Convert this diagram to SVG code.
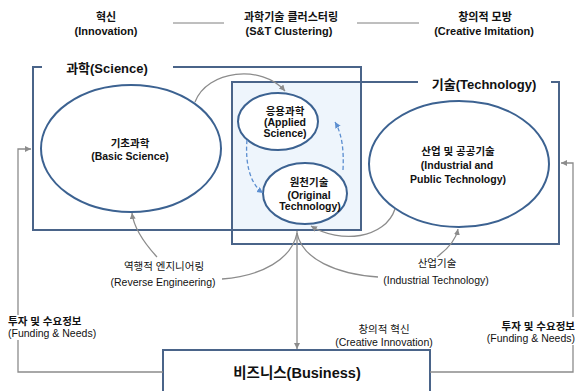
<svg xmlns="http://www.w3.org/2000/svg" width="577" height="391" viewBox="0 0 577 391">
<defs>
<style>
.t{font-family:"Liberation Sans","Noto Sans CJK KR",sans-serif;fill:#111;text-anchor:middle}
.top{font-size:11px;font-weight:bold}
.sec{font-size:13px;font-weight:bold}
.el{font-size:10.5px;font-weight:bold}
.lb{font-size:10.5px}
.box{fill:none;stroke:#4A6489;stroke-width:2}
.ell{fill:#fff;stroke:#3C6291;stroke-width:2}
.ellb{fill:#fff;stroke:#3C6291;stroke-width:2}
.con{fill:none;stroke:#8C8C8C;stroke-width:1.3}
.dash{fill:none;stroke:#5B8ED0;stroke-width:1.3;stroke-dasharray:4 2.5}
</style>
<marker id="ag" markerWidth="7" markerHeight="7" refX="6" refY="3" orient="auto" markerUnits="userSpaceOnUse">
<path d="M0,0 L6,3 L0,6 z" fill="#8C8C8C"/>
</marker>
<marker id="ab" markerWidth="7" markerHeight="7" refX="6" refY="3" orient="auto" markerUnits="userSpaceOnUse">
<path d="M0,0 L6,3 L0,6 z" fill="#5B8ED0"/>
</marker>
</defs>
<rect width="577" height="391" fill="#fff"/>

<g id="header">
<text class="t top" x="106" y="21">혁신</text>
<text class="t top" x="106" y="35">(Innovation)</text>
<text class="t top" x="291" y="21">과학기술 클러스터링</text>
<text class="t top" x="289" y="35">(S&amp;T Clustering)</text>
<text class="t top" x="485" y="21">창의적 모방</text>
<text class="t top" x="484" y="35">(Creative Imitation)</text>
<line x1="173" y1="23" x2="224" y2="23" stroke="#7F7F7F" stroke-width="1"/>
<line x1="357" y1="23" x2="419" y2="23" stroke="#7F7F7F" stroke-width="1"/>
</g>

<g id="overlap">
<rect x="232" y="82" width="129" height="148" fill="#EEF5FC"/>
</g>

<g id="science">
<path class="box" d="M42,67 L33,67 L33,230 L361,230 L361,67 L173,67"/>
<text class="t sec" x="107" y="72.5">과학(Science)</text>
</g>

<g id="technology">
<path class="box" d="M418,82 L232,82 L232,244 L559,244 L559,82 L551,82"/>
<text class="t sec" x="484" y="88.5">기술(Technology)</text>
</g>

<g id="basic-science">
<ellipse class="ellb" cx="131" cy="148.5" rx="90" ry="63.5"/>
<text class="t el" x="130" y="147">기초과학</text>
<text class="t el" x="130" y="160">(Basic Science)</text>
</g>

<g id="applied-science">
<ellipse class="ell" cx="278" cy="121.5" rx="40" ry="28.5"/>
<text class="t el" x="285" y="114.5">응용과학</text>
<text class="t el" x="285" y="125.5">(Applied</text>
<text class="t el" x="285" y="136.5">Science)</text>
</g>

<g id="original-technology">
<ellipse class="ell" cx="305" cy="193.5" rx="42" ry="30.5"/>
<text class="t el" x="309" y="186">원천기술</text>
<text class="t el" x="309" y="199">(Original</text>
<text class="t el" x="310" y="210">Technology)</text>
</g>

<g id="industrial-technology">
<ellipse class="ellb" cx="459" cy="164" rx="90" ry="63"/>
<text class="t el" x="458" y="155">산업 및 공공기술</text>
<text class="t el" x="457" y="169">(Industrial and</text>
<text class="t el" x="458" y="183">Public Technology)</text>
</g>

<g id="business">
<rect x="163" y="350" width="267" height="60" fill="#fff" stroke="#4A6489" stroke-width="2"/>
<text class="t" x="297" y="378" font-size="14.5" font-weight="bold">비즈니스(Business)</text>
</g>

<g id="connectors">
<path class="con" d="M195,102 C207,70 262,64 285,91" marker-end="url(#ag)"/>
<path class="dash" d="M247,140 C245,163 250,184 263,193" marker-end="url(#ab)"/>
<path class="dash" d="M343,170 C344,150 342,134 335,122" marker-end="url(#ab)"/>
<path class="con" d="M395,209 C385,239 340,244 311,226" marker-end="url(#ag)"/>
<path class="con" d="M157,257 C146,245 134,230 132,213" marker-end="url(#ag)"/>
<path class="con" d="M437,257 C449,248 456,240 458,229" marker-end="url(#ag)"/>
<path class="con" d="M297,233 C292,259 262,276 222,279"/>
<path class="con" d="M297,233 C302,259 336,274 378,277"/>
<path class="con" d="M297,231 L297,349" marker-end="url(#ag)"/>
<path class="con" d="M163,372 L18,372 L18,340"/>
<path class="con" d="M18,315 L18,149 L31,149" marker-end="url(#ag)"/>
<path class="con" d="M430,372 L573,372 L573,345"/>
<path class="con" d="M573,317 L573,163 L561,163" marker-end="url(#ag)"/>
</g>

<g id="labels">
<text class="t lb" x="164" y="270">역행적 엔지니어링</text>
<text class="t lb" x="163" y="286">(Reverse Engineering)</text>
<text class="t lb" x="437" y="267">산업기술</text>
<text class="t lb" x="436" y="284">(Industrial Technology)</text>
<text class="t lb" x="384" y="333">창의적 혁신</text>
<text class="t lb" x="384" y="346">(Creative Innovation)</text>
<text class="t lb" x="8" y="325" style="text-anchor:start;font-weight:bold">투자 및 수요정보</text>
<text class="t lb" x="8" y="337" style="text-anchor:start">(Funding &amp; Needs)</text>
<text class="t lb" x="575" y="330" style="text-anchor:end;font-weight:bold">투자 및 수요정보</text>
<text class="t lb" x="575" y="342" style="text-anchor:end">(Funding &amp; Needs)</text>
</g>
</svg>
